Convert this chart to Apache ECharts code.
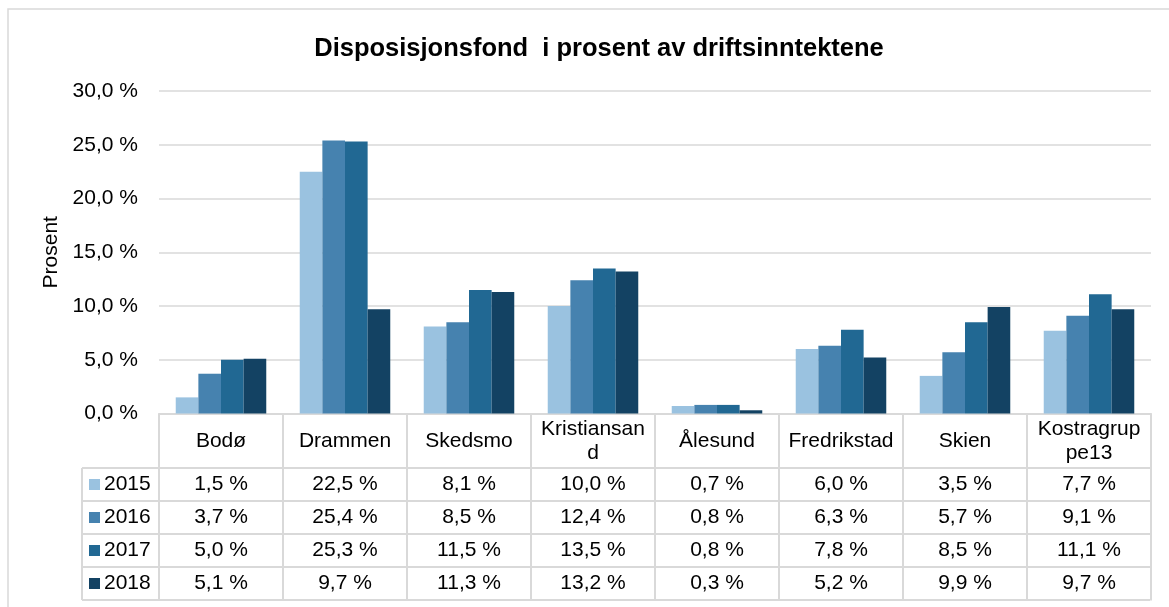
<!DOCTYPE html>
<html>
<head>
<meta charset="utf-8">
<script src="https://cdn.jsdelivr.net/npm/echarts@6/dist/echarts.min.js"></script>
<style>
  html, body { margin: 0; padding: 0; background: #fff; }
  #main { width: 1169px; height: 607px; }
</style>
</head>
<body>
<div id="main"></div>
<script>
// data
var categories = ['Bodø', 'Drammen', 'Skedsmo', 'Kristiansand', 'Ålesund', 'Fredrikstad', 'Skien', 'Kostragruppe13']
var years = ['2015', '2016', '2017', '2018']
var v2015 = [1.5, 22.5, 8.1, 10.0, 0.7, 6.0, 3.5, 7.7]
var v2016 = [3.7, 25.4, 8.5, 12.4, 0.8, 6.3, 5.7, 9.1]
var v2017 = [5.0, 25.3, 11.5, 13.5, 0.8, 7.8, 8.5, 11.1]
var v2018 = [5.1, 9.7, 11.3, 13.2, 0.3, 5.2, 9.9, 9.7]
var values = [v2015, v2016, v2017, v2018]
var colors = ['#9AC2E0', '#4682AF', '#216893', '#134263']

var FONT = 'Arial, "Liberation Sans", sans-serif'
var GRID_LINE = '#D9D9D9'

function pct (v) {
  return v.toFixed(1).replace('.', ',') + ' %'
}

var chart = echarts.init(document.getElementById('main'))

var series = years.map(function (y, i) {
  return {
    name: y,
    type: 'bar',
    data: values[i],
    barGap: 0,
    barCategoryGap: '27%',
    itemStyle: { color: colors[i] }
  }
})

chart.setOption({
  animation: false,
  title: {
    text: 'Disposisjonsfond  i prosent av driftsinntektene',
    left: 594,
    top: 31,
    textAlign: 'center',
    textStyle: { fontFamily: FONT, fontSize: 25.5, fontWeight: 'bold', color: '#000' }
  },
  grid: { left: 159, right: 18, top: 91, bottom: 193.5, outerBoundsMode: 'none' },
  xAxis: {
    type: 'category',
    data: categories,
    axisLine: { lineStyle: { color: GRID_LINE, width: 2 } },
    axisTick: { show: true, length: 187, lineStyle: { color: GRID_LINE, width: 2 } },
    axisLabel: {
      margin: 27.5,
      verticalAlign: 'middle',
      fontFamily: FONT,
      fontSize: 21,
      lineHeight: 24,
      color: '#000',
      width: 110,
      overflow: 'breakAll',
      interval: 0
    }
  },
  yAxis: {
    type: 'value',
    min: 0,
    max: 30,
    interval: 5,
    name: 'Prosent',
    nameLocation: 'middle',
    nameGap: 94,
    nameTextStyle: { fontFamily: FONT, fontSize: 21, color: '#000' },
    axisLine: { show: false },
    axisTick: { show: false },
    axisLabel: {
      margin: 21,
      fontFamily: FONT,
      fontSize: 21,
      color: '#000',
      formatter: function (v) { return pct(v) }
    },
    splitLine: { lineStyle: { color: GRID_LINE, width: 1.5 } }
  },
  series: series
})

// data table under the axis, placed with the axis' own positions
var tableLeft = 82
var tableRight = 1150
var rowTop = [468, 501, 534, 567]
var rowH = 33
var gfx = []

// outer chart border
gfx.push({
  type: 'rect',
  shape: { x: 8, y: 9, width: 1300, height: 800 },
  style: { fill: 'none', stroke: GRID_LINE, lineWidth: 1.5 },
  silent: true
})

rowTop.concat([rowTop[3] + rowH]).forEach(function (y) {
  gfx.push({
    type: 'line',
    shape: { x1: tableLeft, y1: y, x2: tableRight, y2: y },
    style: { stroke: GRID_LINE, lineWidth: 2 }
  })
})
gfx.push({
  type: 'line',
  shape: { x1: tableLeft, y1: rowTop[0], x2: tableLeft, y2: rowTop[3] + rowH },
  style: { stroke: GRID_LINE, lineWidth: 2 }
})

years.forEach(function (y, r) {
  var cy = rowTop[r] + rowH / 2
  gfx.push({
    type: 'rect',
    shape: { x: 89, y: cy - 5.5, width: 11, height: 11 },
    style: { fill: colors[r] }
  })
  gfx.push({
    type: 'text',
    x: 104,
    y: cy,
    style: { text: y, fontFamily: FONT, fontSize: 21, fill: '#000', textVerticalAlign: 'middle' }
  })
  categories.forEach(function (c, i) {
    var cx = chart.convertToPixel({ xAxisIndex: 0 }, c)
    gfx.push({
      type: 'text',
      x: cx,
      y: cy,
      style: {
        text: pct(values[r][i]),
        fontFamily: FONT,
        fontSize: 21,
        fill: '#000',
        textAlign: 'center',
        textVerticalAlign: 'middle'
      }
    })
  })
})

chart.setOption({ graphic: gfx })
</script>
</body>
</html>
